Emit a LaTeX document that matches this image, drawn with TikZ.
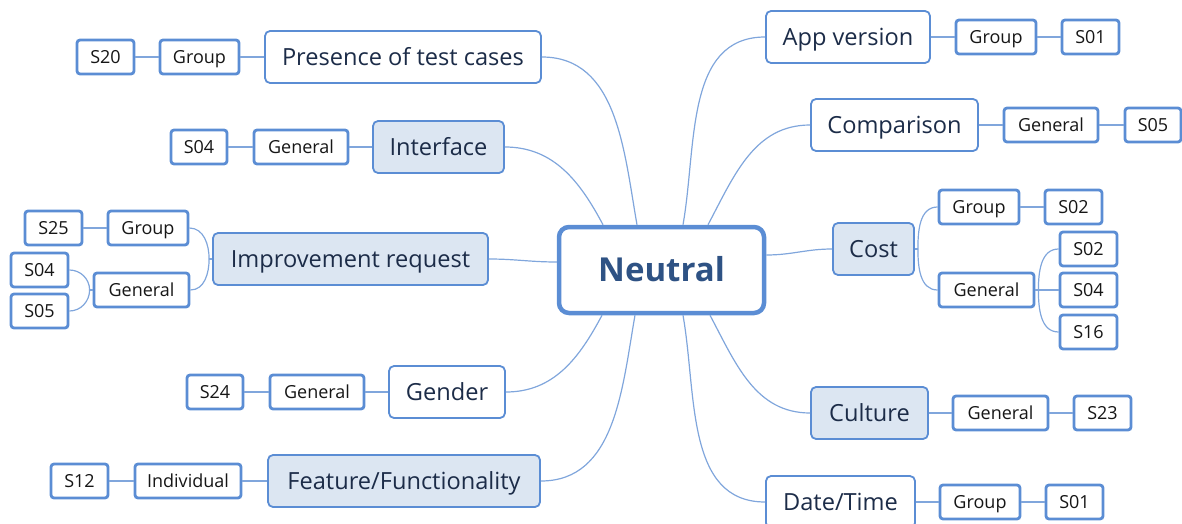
\documentclass[tikz,border=0pt]{standalone}
\usepackage{fontspec}
\setmainfont{Open Sans}
\definecolor{edgeblue}{RGB}{91,141,212}
\definecolor{topicfill}{RGB}{220,230,242}
\definecolor{linkblue}{RGB}{128,166,220}
\definecolor{topictext}{RGB}{28,44,72}
\definecolor{roottext}{RGB}{46,82,132}
\definecolor{leaftext}{RGB}{22,22,22}
\begin{document}
\begin{tikzpicture}[x=1pt,y=1pt,
  root/.style={draw=edgeblue, line width=4.5pt, rounded corners=10pt, fill=white,
    minimum width=205pt, minimum height=86pt, inner sep=0pt,
    text height=23.5pt, text depth=0pt,
    font=\fontsize{33}{38}\selectfont\bfseries, text=roottext},
  topic/.style={draw=edgeblue, line width=1.8pt, rounded corners=5pt, fill=white,
    minimum height=52pt, inner sep=0pt, text height=17pt, text depth=0pt,
    font=\fontsize{23.6}{28}\selectfont, text=topictext},
  shaded/.style={topic, fill=topicfill},
  leaf/.style={draw=edgeblue, line width=2.8pt, rounded corners=3pt, fill=white,
    minimum height=34pt, inner sep=0pt, text height=13pt, text depth=0pt,
    font=\fontsize{18}{22}\selectfont, text=leaftext},
  conn/.style={draw=linkblue, line width=1.2pt}]
\useasboundingbox (0,0) rectangle (1182,-524);
\clip (0,0) rectangle (1182,-524);

% central topic
\node[root] (neu) at (661.5,-270) {Neutral};

% left branches
\node[topic,  minimum width=276pt] (pres) at (403,-57)   {Presence of test cases};
\node[leaf,   minimum width=79pt]  (presg) at (199.5,-57) {Group};
\node[leaf,   minimum width=57pt]  (s20) at (105.5,-57)   {S20};

\node[shaded, minimum width=131pt] (intf) at (438.5,-147) {Interface};
\node[leaf,   minimum width=94pt]  (intfg) at (301,-147)  {General};
\node[leaf,   minimum width=56pt]  (s04a) at (199,-147)   {S04};

\node[shaded, minimum width=275pt] (impr) at (350.5,-259) {Improvement request};
\node[leaf,   minimum width=80pt]  (imprgrp) at (148,-228) {Group};
\node[leaf,   minimum width=57pt]  (s25) at (53.5,-228)   {S25};
\node[leaf,   minimum width=95pt]  (imprgen) at (141.5,-290) {General};
\node[leaf,   minimum width=57pt]  (s04b) at (39.5,-270)  {S04};
\node[leaf,   minimum width=57pt]  (s05b) at (39.5,-311)  {S05};

\node[topic,  minimum width=116pt] (gend) at (447,-392)   {Gender};
\node[leaf,   minimum width=94pt]  (gendg) at (317,-392)  {General};
\node[leaf,   minimum width=56pt]  (s24) at (215,-392)    {S24};

\node[shaded, minimum width=272pt] (feat) at (404,-481)   {Feature/Functionality};
\node[leaf,   minimum width=106pt] (feati) at (188,-481)  {Individual};
\node[leaf,   minimum width=57pt]  (s12) at (79.5,-481)   {S12};

% right branches
\node[topic,  minimum width=164pt] (appv) at (848,-37)    {App version};
\node[leaf,   minimum width=80pt]  (appvg) at (996,-37)   {Group};
\node[leaf,   minimum width=57pt]  (s01a) at (1090.5,-37) {S01};

\node[topic,  minimum width=167pt] (comp) at (894.5,-125) {Comparison};
\node[leaf,   minimum width=94pt]  (compg) at (1051,-125) {General};
\node[leaf,   minimum width=56pt]  (s05a) at (1153,-125)  {S05};

\node[shaded, minimum width=81pt]  (cost) at (873.5,-249) {Cost};
\node[leaf,   minimum width=80pt]  (costgrp) at (979,-207) {Group};
\node[leaf,   minimum width=57pt]  (s02a) at (1073.5,-207) {S02};
\node[leaf,   minimum width=95pt]  (costgen) at (986.5,-290) {General};
\node[leaf,   minimum width=57pt]  (s02b) at (1088.5,-249) {S02};
\node[leaf,   minimum width=57pt]  (s04c) at (1088.5,-290) {S04};
\node[leaf,   minimum width=57pt]  (s16) at (1088.5,-332)  {S16};

\node[shaded, minimum width=117pt] (cult) at (869.5,-413) {Culture};
\node[leaf,   minimum width=95pt]  (cultg) at (1000.5,-413) {General};
\node[leaf,   minimum width=57pt]  (s23) at (1102.5,-413) {S23};

\node[topic,  minimum width=149pt] (date) at (840.5,-502) {Date/Time};
\node[leaf,   minimum width=80pt]  (dateg) at (980,-502)  {Group};
\node[leaf,   minimum width=57pt]  (s01b) at (1074.5,-502) {S01};

% branch points on the central topic
\coordinate (nt1) at ([xshift=-58.5pt]neu.north);
\coordinate (nt2) at ([xshift=-24.5pt]neu.north);
\coordinate (nt3) at ([xshift=21.5pt]neu.north);
\coordinate (nt4) at ([xshift=46.5pt]neu.north);
\coordinate (nb1) at ([xshift=-59.5pt]neu.south);
\coordinate (nb2) at ([xshift=-26.5pt]neu.south);
\coordinate (nb3) at ([xshift=21.5pt]neu.south);
\coordinate (nb4) at ([xshift=48.5pt]neu.south);
\coordinate (nl) at ([yshift=8pt]neu.west);
\coordinate (nr) at ([yshift=15pt]neu.east);

% main branches
\draw[conn] (nt2) to[out=100,in=0] (pres.east);
\draw[conn] (nt1) to[out=118,in=0] (intf.east);
\draw[conn] (nl) to[out=180,in=0] (impr.east);
\draw[conn] (nb1) to[out=-118,in=0] (gend.east);
\draw[conn] (nb2) to[out=-100,in=0] (feat.east);
\draw[conn] (nt3) to[out=80,in=180] (appv.west);
\draw[conn] (nt4) to[out=62,in=180] (comp.west);
\draw[conn] (nr) to[out=0,in=180] (cost.west);
\draw[conn] (nb4) to[out=-62,in=180] (cult.west);
\draw[conn] (nb3) to[out=-80,in=180] (date.west);

% chains
\draw[conn] (pres.west) -- (presg.east) (presg.west) -- (s20.east);
\draw[conn] (intf.west) -- (intfg.east) (intfg.west) -- (s04a.east);
\draw[conn] (gend.west) -- (gendg.east) (gendg.west) -- (s24.east);
\draw[conn] (feat.west) -- (feati.east) (feati.west) -- (s12.east);
\draw[conn] (appv.east) -- (appvg.west) (appvg.east) -- (s01a.west);
\draw[conn] (comp.east) -- (compg.west) (compg.east) -- (s05a.west);
\draw[conn] (cult.east) -- (cultg.west) (cultg.east) -- (s23.west);
\draw[conn] (date.east) -- (dateg.west) (dateg.east) -- (s01b.west);
\draw[conn] (imprgrp.west) -- (s25.east);
\draw[conn] (costgrp.east) -- (s02a.west);

% forks
\coordinate (fimpr) at ([xshift=-3pt]impr.west);
\draw[conn] (impr.west) -- (fimpr);
\draw[conn] (fimpr) to[out=90,in=0] (imprgrp.east);
\draw[conn] (fimpr) to[out=-90,in=0] (imprgen.east);

\coordinate (fgen) at ([xshift=-3pt]imprgen.west);
\draw[conn] (imprgen.west) -- (fgen);
\draw[conn] (fgen) to[out=90,in=0] (s04b.east);
\draw[conn] (fgen) to[out=-90,in=0] (s05b.east);

\coordinate (fcost) at ([xshift=3pt]cost.east);
\draw[conn] (cost.east) -- (fcost);
\draw[conn] (fcost) to[out=90,in=180] (costgrp.west);
\draw[conn] (fcost) to[out=-90,in=180] (costgen.west);

\coordinate (fcgen) at ([xshift=3pt]costgen.east);
\draw[conn] (costgen.east) -- (s04c.west);
\draw[conn] (fcgen) to[out=90,in=180] (s02b.west);
\draw[conn] (fcgen) to[out=-90,in=180] (s16.west);
\end{tikzpicture}
\end{document}
